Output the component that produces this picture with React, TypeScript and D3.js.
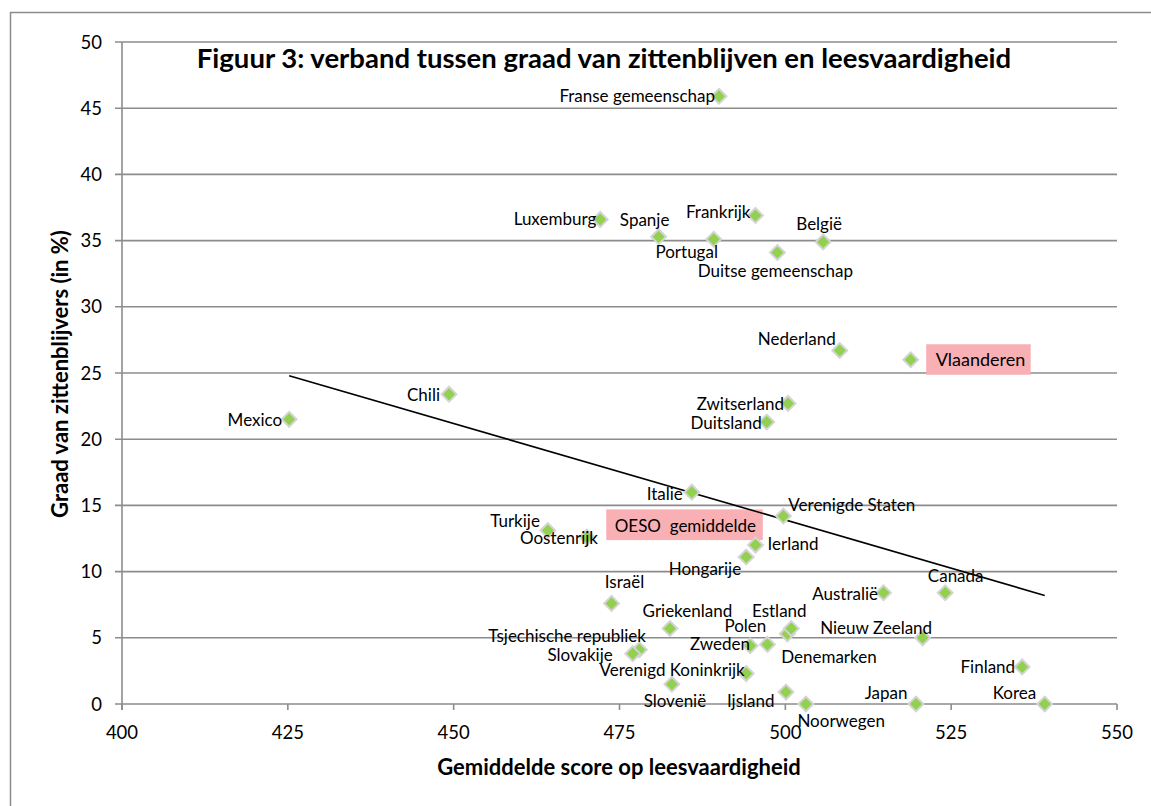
import React, { useEffect, useRef } from "react";
import * as d3 from "d3";

// PISA: reading score vs. share of pupils who repeated a year
const COUNTRIES = [
  "Franse gemeenschap", "Luxemburg", "Spanje", "Portugal", "Frankrijk", "Duitse gemeenschap", "België",
  "Mexico", "Chili", "Zwitserland", "Duitsland", "Nederland", "Vlaanderen", "Italie", "Verenigde Staten",
  "Turkije", "Oostenrijk", "Ierland", "Hongarije", "Israël", "Griekenland", "Tsjechische republiek",
  "Slovakije", "Verenigd Koninkrijk", "Slovenië", "Denemarken", "Zweden", "Polen", "Estland",
  "Ijsland", "Noorwegen", "Japan", "Korea", "Finland", "Nieuw Zeeland", "Australië", "Canada",
];
const READING = [
  490, 472.1, 480.9, 489.2, 495.5, 498.8, 505.7,
  425.2, 449.3, 500.4, 497.2, 508.2, 518.9, 485.9, 499.7,
  464.2, 470.1, 495.5, 494.1, 473.8, 482.6, 478.0,
  477.0, 494.1, 482.9, 494.7, 497.3, 500.3, 500.9,
  500.1, 503.1, 519.7, 539.1, 535.7, 520.7, 514.8, 524.1,
];
const REPEATERS = [
  45.9, 36.6, 35.3, 35.1, 36.9, 34.1, 34.9,
  21.5, 23.4, 22.7, 21.3, 26.7, 26.0, 16.0, 14.2,
  13.1, 12.6, 12.0, 11.1, 7.6, 5.7, 4.1,
  3.8, 2.3, 1.5, 4.4, 4.5, 5.3, 5.7,
  0.9, 0, 0, 0, 2.8, 5.0, 8.4, 8.4,
];

// linear trend (Excel trendline)
const TREND_X = [425.2, 539.1];
const TREND_Y = [24.8, 8.2];

const X_TICKS = [400, 425, 450, 475, 500, 525, 550];
const Y_TICKS = [0, 5, 10, 15, 20, 25, 30, 35, 40, 45, 50];

const TITLE = "Figuur 3: verband tussen graad van zittenblijven en leesvaardigheid";
const X_TITLE = "Gemiddelde score op leesvaardigheid";
const Y_TITLE = "Graad van zittenblijvers (in %)";

// OESO text box corners, in data units
const OESO_BOX = { x0: 473.0, x1: 496.6, y0: 14.7, y1: 12.38 };

// label placement: [dx, dy, anchor] relative to the marker
const LABEL_POS: Record<string, [number, number, string]> = {
  "Franse gemeenschap": [-4, 6, "end"],
  "Luxemburg": [-4, 6, "end"],
  "Spanje": [-14, -11, "middle"],
  "Portugal": [-27, 19, "middle"],
  "Frankrijk": [-5, 2.5, "end"],
  "Duitse gemeenschap": [-2, 24, "middle"],
  "België": [-4, -12, "middle"],
  "Mexico": [-7, 6.5, "end"],
  "Chili": [-9, 6.5, "end"],
  "Zwitserland": [-4, 6.5, "end"],
  "Duitsland": [-5, 7, "end"],
  "Nederland": [-4, -5, "end"],
  "Italie": [-9, 7.5, "end"],
  "Verenigde Staten": [5, -4.5, "start"],
  "Turkije": [-8, -4, "end"],
  "Oostenrijk": [-28, 7, "middle"],
  "Ierland": [12, 4.5, "start"],
  "Hongarije": [-5, 17.5, "end"],
  "Israël": [13, -15.5, "middle"],
  "Griekenland": [17.5, -11.5, "middle"],
  "Tsjechische republiek": [6.5, -8, "end"],
  "Slovakije": [-20, 7, "end"],
  "Verenigd Koninkrijk": [-1.5, 2.5, "end"],
  "Slovenië": [3, 22.5, "middle"],
  "Denemarken": [31, 17.5, "start"],
  "Zweden": [-17.5, 5.5, "end"],
  "Polen": [-21, -1.5, "end"],
  "Estland": [-12, -11.5, "middle"],
  "Ijsland": [-11.5, 14.5, "end"],
  "Noorwegen": [-8.5, 22.5, "start"],
  "Japan": [-8.5, -5, "end"],
  "Korea": [-8.5, -5, "end"],
  "Finland": [-7, 6.5, "end"],
  "Nieuw Zeeland": [9.5, -4, "end"],
  "Australië": [-5.5, 7, "end"],
  "Canada": [10.5, -10.5, "middle"],
};

const FONT = "Lato, 'Open Sans', sans-serif";
const GRID = "#8c8c8c";
const PINK = "#f8b0b5";

export default function App() {
  const ref = useRef<SVGSVGElement | null>(null);

  useEffect(() => {
    if (!ref.current) return;
    const svg = d3.select(ref.current);
    svg.selectAll("*").remove();

    const x = d3.scaleLinear().domain([400, 550]).range([122, 1117]);
    const y = d3.scaleLinear().domain([0, 50]).range([704, 42]);

    svg.append("rect").attr("width", 1151).attr("height", 806).attr("fill", "#fff");
    // outer chart frame (right and bottom edges are cut off in the picture)
    svg.append("rect").attr("x", 10.5).attr("y", 12.5).attr("width", 1160).attr("height", 820)
      .attr("fill", "none").attr("stroke", GRID).attr("stroke-width", 1.5);

    // gridlines
    svg.append("g").selectAll("line").data(Y_TICKS).enter().append("line")
      .attr("x1", x(400) - 7).attr("x2", x(550))
      .attr("y1", d => y(d)).attr("y2", d => y(d))
      .attr("stroke", GRID).attr("stroke-width", 1.6);

    // y axis
    svg.append("line").attr("x1", x(400)).attr("x2", x(400)).attr("y1", y(50)).attr("y2", y(0) + 6)
      .attr("stroke", GRID).attr("stroke-width", 1.6);
    svg.append("g").selectAll("text").data(Y_TICKS).enter().append("text")
      .attr("x", 102).attr("y", d => y(d) + 6.5).attr("text-anchor", "end")
      .attr("font-family", FONT).attr("font-size", 18.5).attr("fill", "#000")
      .text(d => d);

    // x axis ticks
    svg.append("g").selectAll("line").data(X_TICKS).enter().append("line")
      .attr("x1", d => x(d)).attr("x2", d => x(d)).attr("y1", y(0)).attr("y2", y(0) + 6)
      .attr("stroke", GRID).attr("stroke-width", 1.6);
    svg.append("g").selectAll("text").data(X_TICKS).enter().append("text")
      .attr("x", d => x(d)).attr("y", 739).attr("text-anchor", "middle")
      .attr("font-family", FONT).attr("font-size", 18.5).attr("fill", "#000")
      .text(d => d);

    // titles
    svg.append("text").attr("x", 604).attr("y", 68).attr("text-anchor", "middle")
      .attr("font-family", FONT).attr("font-weight", "bold").attr("font-size", 27.5)
      .text(TITLE);
    svg.append("text").attr("x", 619).attr("y", 775).attr("text-anchor", "middle")
      .attr("font-family", FONT).attr("font-weight", "bold").attr("font-size", 22)
      .text(X_TITLE);
    svg.append("text").attr("transform", "translate(68,374) rotate(-90)").attr("text-anchor", "middle")
      .attr("font-family", FONT).attr("font-weight", "bold").attr("font-size", 22)
      .text(Y_TITLE);

    // OESO average text box
    const oeso = svg.append("g");
    oeso.append("rect").attr("x", x(OESO_BOX.x0)).attr("y", y(OESO_BOX.y0))
      .attr("width", x(OESO_BOX.x1) - x(OESO_BOX.x0)).attr("height", y(OESO_BOX.y1) - y(OESO_BOX.y0))
      .attr("fill", PINK);
    oeso.append("text").attr("x", x(OESO_BOX.x0) + 8.5).attr("y", y(OESO_BOX.y0) + 22.5)
      .attr("font-family", FONT).attr("font-size", 17).attr("fill", "#000")
      .attr("xml:space", "preserve").style("white-space", "pre")
      .text("OESO  gemiddelde");

    // trend line
    const line = d3.line<number>().x(d => x(TREND_X[d])).y(d => y(TREND_Y[d]));
    svg.append("path").attr("d", line([0, 1])).attr("stroke", "#000").attr("stroke-width", 1.6).attr("fill", "none");

    const points = COUNTRIES.map((name, i) => ({ name, sx: READING[i], sy: REPEATERS[i] }));

    // Vlaanderen highlighted label box
    const vl = points.find(p => p.name === "Vlaanderen")!;
    svg.append("rect").attr("x", x(vl.sx) + 15.5).attr("y", y(vl.sy) - 15.5)
      .attr("width", 104.5).attr("height", 30.5).attr("fill", PINK);

    // markers
    const sym = d3.symbol().type(d3.symbolSquare).size(110);
    svg.append("g").selectAll("path").data(points).enter().append("path")
      .attr("d", sym()!)
      .attr("transform", d => `translate(${x(d.sx)},${y(d.sy)}) rotate(45)`)
      .attr("fill", "#92d050").attr("stroke", "#d4d4d4").attr("stroke-width", 2);

    // labels
    svg.append("g").selectAll("text").data(points).enter().append("text")
      .attr("x", d => d.name === "Vlaanderen" ? x(d.sx) + 25 : x(d.sx) + LABEL_POS[d.name][0])
      .attr("y", d => d.name === "Vlaanderen" ? y(d.sy) + 6.5 : y(d.sy) + LABEL_POS[d.name][1])
      .attr("text-anchor", d => d.name === "Vlaanderen" ? "start" : LABEL_POS[d.name][2])
      .attr("font-family", FONT).attr("font-size", d => d.name === "Vlaanderen" ? 18 : 17)
      .attr("fill", "#000")
      .text(d => d.name);
  }, []);

  return (
    <svg ref={ref} width={1151} height={806}
      style={{ position: "absolute", left: 0, top: 0, display: "block" }} />
  );
}
